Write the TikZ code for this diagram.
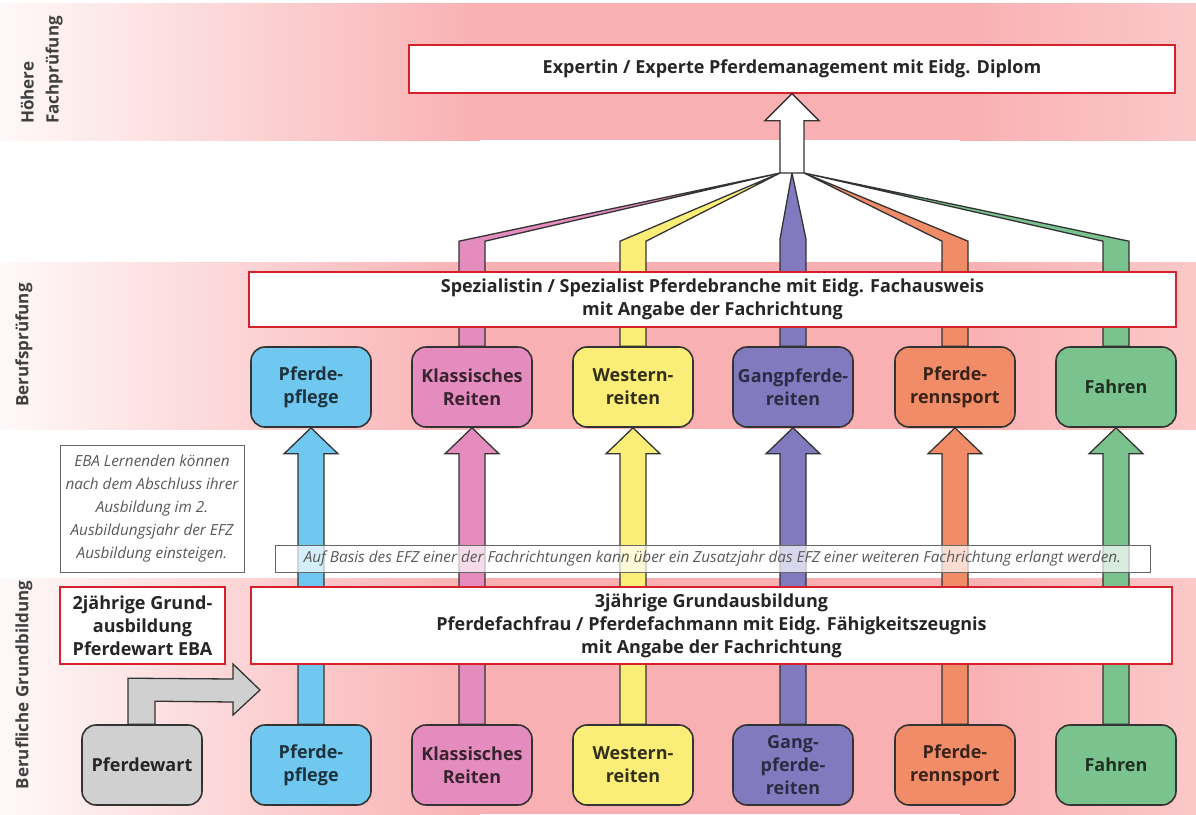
\documentclass[tikz,border=0pt]{standalone}
\usepackage{fontspec}
\setmainfont{Open Sans}
\usepackage{tikz}
\usetikzlibrary{calc}
\usepackage{xcolor}

\definecolor{bandpink}{RGB}{249,176,178}
\definecolor{bandlight}{RGB}{251,200,200}
\definecolor{boxred}{RGB}{214,32,44}
\definecolor{txt}{RGB}{38,38,38}
\definecolor{pflegeblue}{RGB}{112,200,240}
\definecolor{reitenpink}{RGB}{228,140,190}
\definecolor{westernyellow}{RGB}{250,238,120}
\definecolor{gangpurple}{RGB}{130,122,190}
\definecolor{rennorange}{RGB}{240,140,104}
\definecolor{fahrengreen}{RGB}{122,194,142}
\definecolor{wartgray}{RGB}{208,208,208}

\tikzset{
  redbox/.style={draw=boxred, line width=1.3pt, fill=white, inner sep=0pt, align=center, text=txt, font=\bfseries\fontsize{18}{23}\selectfont},
  branch/.style={draw=black!80, line width=1.6pt, rounded corners=14pt, minimum width=120pt, minimum height=80pt, inner sep=0pt, align=center, font=\bfseries\fontsize{18}{23}\selectfont},
  colshaft/.style={draw=black!80, line width=1.3pt},
  notebox/.style={draw=black!60, line width=0.8pt, fill=white, inner sep=0pt, align=center, text=black!65, font=\itshape\fontsize{15.3}{23}\selectfont},
  stage/.style={rotate=90, inner sep=0pt, text=black!75, font=\bfseries\fontsize{17}{25}\selectfont},
}

%% arrow from a lower box up to the box of the same Fachrichtung
\newcommand{\upcolumn}[3]{%
  \filldraw[colshaft, fill=#3] ($(#1.north)+(-13,0)$) -- ($(#2.south)+(-13,26)$) -- ($(#2.south)+(-27,26)$) -- (#2.south)
    -- ($(#2.south)+(27,26)$) -- ($(#2.south)+(13,26)$) -- ($(#1.north)+(13,0)$) -- cycle;}
%% strip from a Berufspruefung box to the foot of the big arrow
\newcommand{\fanstrip}[3]{%
  \filldraw[colshaft, fill=#3] ($(#1.north)+(-13,0)$) -- ($(#1.north)+(-13,-105)$) -- (#2)
    -- ($(#1.north)+(13,-105)$) -- ($(#1.north)+(13,0)$) -- cycle;}

\begin{document}
\begin{tikzpicture}[x=1pt, y=-1pt]
\useasboundingbox (0,0) rectangle (1196,814);
%% \draw[help lines, step=50] (0,0) grid (1196,814);

%% bands
\shade[left color=bandpink!8, right color=bandpink] (0,3) rectangle (480,140);
\fill[bandpink] (479,3) rectangle (961,140);
\shade[left color=bandpink, right color=bandlight] (960,3) rectangle (1196,140);
\shade[left color=bandpink!8, right color=bandpink] (0,262) rectangle (480,429);
\fill[bandpink] (479,262) rectangle (961,429);
\shade[left color=bandpink, right color=bandlight] (960,262) rectangle (1196,429);
\shade[left color=bandpink!8, right color=bandpink] (0,578) rectangle (480,814);
\fill[bandpink] (479,578) rectangle (961,814);
\shade[left color=bandpink, right color=bandlight] (960,578) rectangle (1196,814);

\node[stage, anchor=south west, align=left] (hfp) at (63,124) {H\"ohere\\Fachpr\"ufung};
\node[stage] (bp) at (24,345) {Berufspr\"ufung};
\node[stage] (bg) at (24,685) {Berufliche Grundbildung};

%% Hoehere Fachpruefung
\node[redbox, minimum width=766pt, minimum height=48pt] (expert) at (792,69) {Expertin / Experte Pferdemanagement mit Eidg. Diplom};
\coordinate (fanL) at (780,173);
\coordinate (fan) at (792,173);
\coordinate (fanR) at (804,173);

%% Berufspruefung
\node[branch, fill=pflegeblue, text=pflegeblue!25!black] (b1) at (311,387) {Pferde-\\pflege};
\node[branch, fill=reitenpink, text=reitenpink!25!black] (b2) at (472,387) {Klassisches\\Reiten};
\node[branch, fill=westernyellow, text=westernyellow!20!black] (b3) at (633,387) {Western-\\reiten};
\node[branch, fill=gangpurple, text=gangpurple!35!black] (b4) at (793,387) {Gangpferde-\\reiten};
\node[branch, fill=rennorange, text=rennorange!25!black] (b5) at (955,387) {Pferde-\\rennsport};
\node[branch, fill=fahrengreen, text=fahrengreen!25!black] (b6) at (1116,387) {Fahren};

\fanstrip{b2}{fanL}{reitenpink}
\fanstrip{b3}{fanL}{westernyellow}
\fanstrip{b5}{fanR}{rennorange}
\fanstrip{b6}{fanR}{fahrengreen}
\filldraw[colshaft, fill=gangpurple] ($(b4.north)+(-13,0)$) -- ($(b4.north)+(-13,-107)$) -- (fan)
  -- ($(b4.north)+(13,-107)$) -- ($(b4.north)+(13,0)$) -- cycle;
\filldraw[colshaft, fill=white] (fanL) -- ($(expert.south)+(-12,27)$) -- ($(expert.south)+(-27,27)$) -- (expert.south)
  -- ($(expert.south)+(27,27)$) -- ($(expert.south)+(12,27)$) -- (fanR) -- cycle;

\node[redbox, minimum width=927pt, minimum height=55pt] (spez) at (712.5,299.5) {Spezialistin / Spezialist Pferdebranche mit Eidg. Fachausweis\\mit Angabe der Fachrichtung};

%% Berufliche Grundbildung
\node[branch, fill=wartgray, text=black!85] (wart) at (142,765) {Pferdewart};
\node[branch, fill=pflegeblue, text=pflegeblue!25!black] (g1) at (311,765) {Pferde-\\pflege};
\node[branch, fill=reitenpink, text=reitenpink!25!black] (g2) at (472,765) {Klassisches\\Reiten};
\node[branch, fill=westernyellow, text=westernyellow!20!black] (g3) at (633,765) {Western-\\reiten};
\node[branch, fill=gangpurple, text=gangpurple!35!black] (g4) at (793,765) {Gang-\\pferde-\\reiten};
\node[branch, fill=rennorange, text=rennorange!25!black] (g5) at (955,765) {Pferde-\\rennsport};
\node[branch, fill=fahrengreen, text=fahrengreen!25!black] (g6) at (1116,765) {Fahren};

\upcolumn{g1}{b1}{pflegeblue}
\upcolumn{g2}{b2}{reitenpink}
\upcolumn{g3}{b3}{westernyellow}
\upcolumn{g4}{b4}{gangpurple}
\upcolumn{g5}{b5}{rennorange}
\upcolumn{g6}{b6}{fahrengreen}

\node[redbox, minimum width=921pt, minimum height=77pt] (grund) at (711.5,625.5) {3j\"ahrige Grundausbildung\\Pferdefachfrau / Pferdefachmann mit Eidg. F\"ahigkeitszeugnis\\mit Angabe der Fachrichtung};
\node[redbox, minimum width=165pt, minimum height=77pt] (eba) at (142.5,625.5) {2j\"ahrige Grund-\\ausbildung\\Pferdewart EBA};

\node[notebox, fill opacity=0.7, text opacity=1, minimum width=875pt, minimum height=27pt] (efznote) at (712.5,558.5) {Auf Basis des EFZ einer der Fachrichtungen kann \"uber ein Zusatzjahr das EFZ einer weiteren Fachrichtung erlangt werden.};
\node[notebox, minimum width=184pt, minimum height=127pt] (ebanote) at (152,508.5) {EBA Lernenden k\"onnen\\nach dem Abschluss ihrer\\Ausbildung im 2.\\Ausbildungsjahr der EFZ\\Ausbildung einsteigen.};

%% Pferdewart -> 2. Ausbildungsjahr
\coordinate (warttip) at (260,690);
\filldraw[colshaft, fill=wartgray] ($(wart.north)+(-14,0)$) -- ($(wart.north)+(-14,-46)$) -- ($(warttip)+(-27,-11)$) -- ($(warttip)+(-27,-26)$)
  -- (warttip) -- ($(warttip)+(-27,25)$) -- ($(warttip)+(-27,12)$) -- ($(wart.north)+(13,-23)$) -- ($(wart.north)+(13,0)$) -- cycle;
\end{tikzpicture}
\end{document}
